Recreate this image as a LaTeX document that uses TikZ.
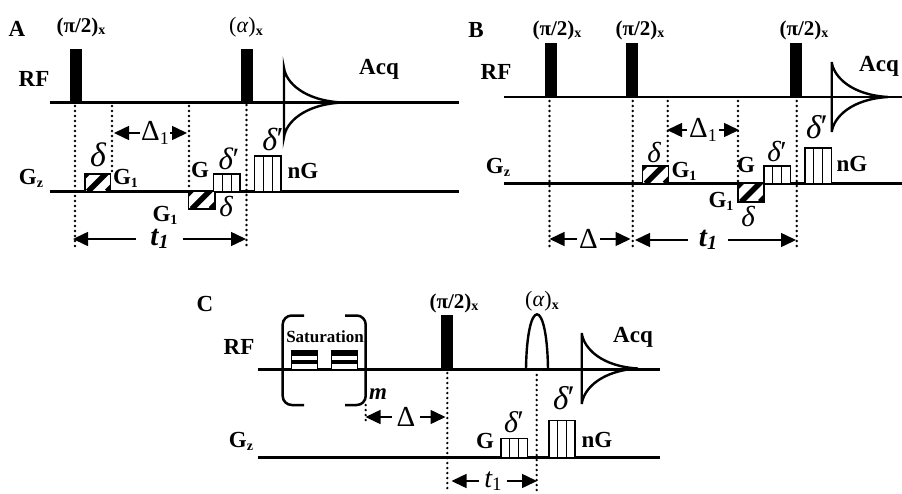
\documentclass[tikz,border=0pt]{standalone}
\usepackage{fontspec}
\setmainfont{Liberation Serif}
\usetikzlibrary{arrows.meta}
\newcommand\fs[1]{\fontsize{#1}{#1}\selectfont}
\newcommand\lsub[1]{\raisebox{-0.28ex}{\fs{14}#1}}
\newcommand\pihalf{\fs{21}\bfseries (π/2)\lsub{x}}
\newcommand\alphax{\fs{22}(\textit{α})\lsub{\bfseries x}}
\newcommand\dlt[1]{\fs{#1}\itshape δ}
\newcommand\dltp[1]{\fs{#1}\itshape δ\kern-0.02em\raisebox{0.02em}{\upshape′}}
\newcommand\gone{\fs{23}\bfseries G\lsub{1}}
\newcommand\gz{\fs{23}\bfseries G\lsub{z}}
\newcommand\tone{\raisebox{-3pt}{\fs{29}\bfseries\itshape t\raisebox{-0.25ex}{\fs{20}1}}}
\newcommand\Dlone{\fs{29}Δ\raisebox{-0.3ex}{\fs{18}1}}
% stripes box: x0 x1 ytop ybase
\newcommand\stripes[4]{%
  \draw[boxl,fill=white] (#1,#3) rectangle (#2,#4);
  \draw[line width=1.1pt] ({#1+(#2-#1)/3},#3) -- ({#1+(#2-#1)/3},#4)
    ({#1+2*(#2-#1)/3},#3) -- ({#1+2*(#2-#1)/3},#4);}
% hatched box
\newcommand\hatched[4]{%
  \begin{scope}
    \clip (#1,#3) rectangle (#2,#4);
    \fill[white] (#1,#3) rectangle (#2,#4);
    \draw[line width=5.5pt] ({#1+3},#4) -- ++(26,-26)
      ({#1-16},#4) -- ++(26,-26) ({#1+22},#4) -- ++(26,-26);
  \end{scope}
  \draw[boxl] (#1,#3) rectangle (#2,#4);}
\newcommand\fid[4]{% x, ytop, ybot, tip x ; axis midway
  \draw[wave] (#1,#2) .. controls (#1+2,{(#2+#3)/2-20}) and (#1+20,{(#2+#3)/2-2}) .. (#4,{(#2+#3)/2})
     .. controls (#1+20,{(#2+#3)/2+2}) and (#1+2,{(#2+#3)/2+20}) .. (#1,#3) -- cycle;}
\tikzset{
  x=1pt,y=-1pt,
  axisl/.style={line width=2.5pt},
  wave/.style={line width=2.4pt,line join=miter},
  boxl/.style={line width=1.5pt},
  pulse/.style={fill=black},
  dotl/.style={line width=2.6pt,line cap=round,dash pattern=on 0pt off 5pt},
  dim/.style={line width=1.5pt,-{Triangle[length=15pt,width=14pt]}},
  lab/.style={inner sep=0pt,text=black},
  gap/.style={inner sep=0pt,minimum width=#1,minimum height=10pt},
  panel/.style={inner sep=0pt,font=\fs{23}\bfseries},
  rflab/.style={inner sep=0pt,font=\fs{23}\bfseries},
}
\begin{document}
\begin{tikzpicture}
\useasboundingbox (0,0) rectangle (902,493);
%%% PANEL A
\node[panel] (Aa) at (17,29) {A};
\node[lab] (Ap1) at (81,27) {\pihalf};
\node[lab] (Ap2) at (246,27) {\alphax};
\node[rflab] (Arf) at (34,79) {RF};
\node[lab] (Agz) at (31,178) {\gz};
\node[rflab] (Aacq) at (379,69) {Acq};
\draw[axisl] (50,102.5) -- (459,102.5);
\draw[axisl] (50,191.5) -- (459,191.5);
\fill[pulse] (69.5,49) rectangle (81.5,102.5);
\fill[pulse] (241,49) rectangle (253,102.5);
\fid{284}{68}{137}{342}
\hatched{85}{110.5}{174}{191.5}
\hatched{188.7}{215}{191.5}{209}
\stripes{213.7}{240}{174}{191.5}
\stripes{254.7}{281}{156}{191.5}
\coordinate (Aq1t) at (75,106); \coordinate (Aq1b) at (75,248);
\coordinate (Aq2t) at (112,106); \coordinate (Aq2b) at (112,172);
\coordinate (Aq3t) at (189,106); \coordinate (Aq3b) at (189,189);
\coordinate (Aq4t) at (246.5,105); \coordinate (Aq4b) at (246.5,247);
\draw[dotl] (Aq1t) -- (Aq1b); \draw[dotl] (Aq2t) -- (Aq2b);
\draw[dotl] (Aq3t) -- (Aq3b); \draw[dotl] (Aq4t) -- (Aq4b);
\node[lab,gap=30pt] (AD) at (155,133) {\Dlone};
\coordinate (ADl) at (114,133); \coordinate (ADr) at (187,133);
\draw[dim] (AD.west) -- (ADl); \draw[dim] (AD.east) -- (ADr);
\node[lab,gap=47pt] (At) at (159.5,239) {\tone};
\coordinate (Atl) at (73,239); \coordinate (Atr) at (246,239);
\draw[dim] (At.west) -- (Atl); \draw[dim] (At.east) -- (Atr);
\node[lab] (Ad1) at (98,155) {\dlt{34}};
\node[lab] (Ag1) at (125.5,178) {\gone};
\node[lab] (Ag) at (200,170) {\fs{23}\bfseries G};
\node[lab] (Ad2) at (229,159) {\dltp{31}};
\node[lab] (Ang) at (303,171) {\fs{23}\bfseries nG};
\node[lab] (Ag2) at (165,215) {\gone};
\node[lab] (Ad3) at (226,207) {\dlt{29}};
\node[lab] (Ad4) at (273,139) {\dltp{32}};
%%% PANEL B
\node[panel] (Ba) at (476,30) {B};
\node[lab] (Bp1) at (557,30) {\pihalf};
\node[lab] (Bp2) at (640,30) {\pihalf};
\node[lab] (Bp3) at (804,30) {\pihalf};
\node[rflab] (Brf) at (496,72) {RF};
\node[lab] (Bgz) at (498,167) {\gz};
\node[rflab] (Bacq) at (879,66) {Acq};
\draw[axisl] (504,97) -- (902,97);
\draw[axisl] (504,183.5) -- (902,183.5);
\fill[pulse] (544.7,43) rectangle (556.7,97);
\fill[pulse] (626,43) rectangle (638,97);
\fill[pulse] (790,43) rectangle (802,97);
\fid{831.7}{62}{132}{888}
\hatched{642.7}{668.7}{166}{183.5}
\hatched{738}{764}{183.5}{202}
\stripes{764}{790.7}{166}{183.5}
\stripes{805}{831.7}{148}{183.5}
\coordinate (Bq1t) at (549.5,101); \coordinate (Bq1b) at (549.5,248);
\coordinate (Bq2t) at (632.7,101); \coordinate (Bq2b) at (632.7,248);
\coordinate (Bq3t) at (667.7,101); \coordinate (Bq3b) at (667.7,165);
\coordinate (Bq4t) at (738,101); \coordinate (Bq4b) at (738,181);
\coordinate (Bq5t) at (796.7,101); \coordinate (Bq5b) at (796.7,248);
\draw[dotl] (Bq1t) -- (Bq1b); \draw[dotl] (Bq2t) -- (Bq2b);
\draw[dotl] (Bq3t) -- (Bq3b); \draw[dotl] (Bq4t) -- (Bq4b);
\draw[dotl] (Bq5t) -- (Bq5b);
\node[lab,gap=32pt] (BD) at (703,130) {\Dlone};
\coordinate (BDl) at (667,130); \coordinate (BDr) at (739,130);
\draw[dim] (BD.west) -- (BDl); \draw[dim] (BD.east) -- (BDr);
\node[lab,gap=40pt] (Bt) at (708,240) {\tone};
\coordinate (Btl) at (635,240); \coordinate (Btr) at (796,240);
\draw[dim] (Bt.west) -- (Btl); \draw[dim] (Bt.east) -- (Btr);
\node[lab,gap=23pt] (BDD) at (588.5,239) {\fs{29}Δ};
\coordinate (BDDl) at (549.5,239); \coordinate (BDDr) at (630.5,239);
\draw[dim] (BDD.west) -- (BDDl); \draw[dim] (BDD.east) -- (BDDr);
\node[lab] (Bd1) at (654,153) {\dlt{29}};
\node[lab] (Bg1) at (684,171) {\gone};
\node[lab] (Bg) at (746,165) {\fs{23}\bfseries G};
\node[lab] (Bd2) at (777,152) {\dltp{29}};
\node[lab] (Bng) at (852,164) {\fs{23}\bfseries nG};
\node[lab] (Bg2) at (721,201) {\gone};
\node[lab] (Bd3) at (748,217) {\dlt{29}};
\node[lab] (Bd4) at (817,127) {\dltp{33}};
%%% PANEL C
\node[panel] (Ca) at (205,304) {C};
\node[lab] (Cp1) at (454,303) {\pihalf};
\node[lab] (Cp2) at (542,301) {\alphax};
\node[rflab] (Crf) at (239,347) {RF};
\node[lab] (Cgz) at (241,441) {\gz};
\node[rflab] (Cacq) at (633,337) {Acq};
\node[lab,font=\fs{17}\bfseries] (Csat) at (325,336.5) {Saturation};
\draw[axisl] (258,369.3) -- (660,369.3);
\draw[axisl] (258,457.7) -- (660,457.7);
\fill[pulse] (440.7,315) rectangle (452.7,369.3);
\draw[wave] (526,369.3) .. controls (527,296) and (547,296) .. (548,369.3);
\fid{581.7}{333}{404}{638}
\draw[axisl,rounded corners=9pt] (304,315.5) -- (282.7,315.5) -- (282.7,405) -- (304,405);
\draw[axisl,rounded corners=9pt] (345,315.5) -- (365.7,315.5) -- (365.7,405) -- (345,405);
\foreach \xa/\xb in {291.7/317.7,331.7/357.7}{
  \fill[white] (\xa,350.7) rectangle (\xb,369.3);
  \draw[line width=1.1pt] (\xa,350.7) rectangle (\xb,369.3);
  \fill (\xa,350.7) rectangle (\xb,355.5);
  \fill (\xa,360) rectangle (\xb,363.5);
}
\stripes{501}{527.3}{438.7}{457.7}
\stripes{549}{575}{420.7}{457.7}
\coordinate (Cq1t) at (447.3,373); \coordinate (Cq1b) at (447.3,491);
\coordinate (Cq2t) at (536.7,375); \coordinate (Cq2b) at (536.7,491);
\coordinate (Cq3t) at (365.7,405); \coordinate (Cq3b) at (365.7,424);
\draw[dotl] (Cq1t) -- (Cq1b); \draw[dotl] (Cq2t) -- (Cq2b);
\draw[dotl] (Cq3t) -- (Cq3b);
\node[lab,gap=28pt] (CD) at (406,417) {\fs{29}Δ};
\coordinate (CDl) at (365.5,417); \coordinate (CDr) at (445.5,417);
\draw[dim] (CD.west) -- (CDl); \draw[dim] (CD.east) -- (CDr);
\node[lab,gap=27pt] (Ct) at (493,481) {\fs{28}\itshape t\raisebox{-0.25ex}{\fs{19}\upshape 1}};
\coordinate (Ctl) at (451.5,481); \coordinate (Ctr) at (537,481);
\draw[dim] (Ct.west) -- (Ctl); \draw[dim] (Ct.east) -- (Ctr);
\node[lab] (Cm) at (378,394) {\fs{23}\bfseries\itshape m};
\node[lab] (Cg) at (485,441) {\fs{23}\bfseries G};
\node[lab] (Cd2) at (514,422) {\dltp{30}};
\node[lab] (Cng) at (597,440) {\fs{23}\bfseries nG};
\node[lab] (Cd4) at (564,398) {\dltp{33}};
\end{tikzpicture}
\end{document}
